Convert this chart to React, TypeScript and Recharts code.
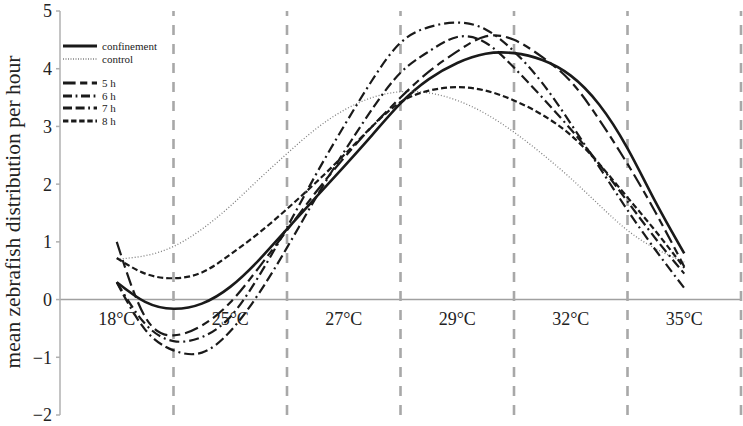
import { LineChart, Line, XAxis, YAxis, ReferenceLine, ReferenceDot } from "recharts";

// category positions (0..6 = six temperature bins), curves sampled every quarter bin
const xs = [0.5, 0.75, 1, 1.25, 1.5, 1.75, 2, 2.25, 2.5, 2.75, 3, 3.25, 3.5, 3.75, 4, 4.25, 4.5, 4.75, 5, 5.25, 5.5];

const confinement = [0.3, -0.04, -0.16, -0.07, 0.22, 0.68, 1.22, 1.76, 2.3, 2.85, 3.4, 3.82, 4.1, 4.26, 4.27, 4.15, 3.88, 3.38, 2.62, 1.68, 0.8];
const control = [0.7, 0.76, 0.92, 1.22, 1.62, 2.08, 2.53, 2.95, 3.28, 3.5, 3.6, 3.58, 3.45, 3.22, 2.9, 2.52, 2.1, 1.64, 1.2, 0.88, 0.65];
const h5 = [1.0, -0.3, -0.62, -0.45, -0.05, 0.55, 1.2, 1.85, 2.45, 3.0, 3.5, 3.95, 4.3, 4.56, 4.5, 4.2, 3.78, 3.12, 2.35, 1.5, 0.57];
const h6 = [0.3, -0.42, -0.72, -0.65, -0.3, 0.4, 1.25, 2.15, 3.0, 3.8, 4.45, 4.72, 4.8, 4.68, 4.3, 3.75, 3.05, 2.3, 1.55, 0.85, 0.2];
const h7 = [0.3, -0.52, -0.88, -0.92, -0.55, 0.1, 0.9, 1.75, 2.55, 3.3, 3.93, 4.3, 4.55, 4.45, 4.02, 3.5, 2.95, 2.35, 1.7, 1.05, 0.45];
const h8 = [0.72, 0.45, 0.37, 0.47, 0.78, 1.15, 1.57, 2.02, 2.5, 3.0, 3.42, 3.62, 3.68, 3.62, 3.45, 3.2, 2.85, 2.35, 1.77, 1.18, 0.55];

const categories = ["18°C", "25°C", "27°C", "29°C", "32°C", "35°C"];
const yTicks = [-2, -1, 0, 1, 2, 3, 4, 5];
const boundaries = [1, 2, 3, 4, 5, 6];

const data = xs.map((x, i) => ({
  x,
  confinement: confinement[i],
  control: control[i],
  h5: h5[i],
  h6: h6[i],
  h7: h7[i],
  h8: h8[i],
}));

const serif = "'Liberation Serif', 'DejaVu Serif', serif";
const ink = "#1a1a1a";

const series = [
  { key: "confinement", name: "confinement", color: ink, width: 2.6, dash: undefined as string | undefined },
  { key: "control", name: "control", color: "#808080", width: 1.3, dash: "1 2" },
  { key: "h5", name: "5 h", color: ink, width: 2.2, dash: "14 5 8 5" },
  { key: "h6", name: "6 h", color: ink, width: 2.2, dash: "10 4 2 4" },
  { key: "h7", name: "7 h", color: ink, width: 2.2, dash: "10 4 10 4 2 4" },
  { key: "h8", name: "8 h", color: ink, width: 2.2, dash: "6 3" },
];

const legendTops = [41, 53.5, 78, 90.5, 103, 115.5];

function YLabel() {
  return (
    <text
      x={20}
      y={212}
      transform="rotate(-90 20 212)"
      textAnchor="middle"
      fontFamily={serif}
      fontSize={21.5}
      fill="#222"
    >
      mean zebrafish distribution per hour
    </text>
  );
}

export default function App() {
  return (
    <div style={{ position: "absolute", left: 0, top: 0, width: 743, height: 426, background: "#fff" }}>
      <LineChart width={743} height={426} data={data} margin={{ top: 11, right: 2, bottom: 11, left: 0 }}>
        <XAxis type="number" dataKey="x" domain={[0, 6]} hide />
        <YAxis
          type="number"
          domain={[-2, 5]}
          ticks={yTicks}
          width={60}
          tickSize={4}
          tickMargin={4}
          stroke="#b0b0b0"
          strokeWidth={1.5}
          tick={{ fontFamily: serif, fontSize: 18, fill: "#222" }}
          tickFormatter={(v: number) => (v < 0 ? "\u2212" + Math.abs(v) : String(v))}
          label={<YLabel />}
        />
        <ReferenceLine y={0} stroke="#a0a0a0" strokeWidth={1.5} />
        {boundaries.map((b) => (
          <ReferenceLine key={b} x={b} stroke="#a8a8a8" strokeWidth={2.6} strokeDasharray="10 9" />
        ))}
        {categories.map((c, i) => (
          <ReferenceDot
            key={c}
            x={i + 0.5}
            y={0}
            r={1}
            fill="none"
            stroke="none"
            ifOverflow="visible"
            label={{ value: c, position: "bottom", offset: 12, fill: "#222", fontSize: 18, fontFamily: serif }}
          />
        ))}
        {series.map((s) => (
          <Line
            key={s.key}
            dataKey={s.key}
            name={s.name}
            type="natural"
            stroke={s.color}
            strokeWidth={s.width}
            strokeDasharray={s.dash}
            dot={false}
            isAnimationActive={false}
          />
        ))}
      </LineChart>
      {series.map((s, i) => (
        <div
          key={s.key}
          style={{
            position: "absolute",
            left: 63,
            top: legendTops[i],
            height: 10,
            display: "flex",
            alignItems: "center",
            fontFamily: serif,
            fontSize: 11,
            color: "#222",
            lineHeight: "10px",
          }}
        >
          <svg width={34} height={8} style={{ marginRight: 5 }}>
            <line
              x1={0}
              y1={4}
              x2={34}
              y2={4}
              stroke={s.color}
              strokeWidth={i === 1 ? 1.3 : 3}
              strokeDasharray={s.dash ? (i === 1 ? "1 1.5" : s.dash.split(" ").map((d) => String(Number(d) * 0.9)).join(" ")) : undefined}
            />
          </svg>
          {s.name}
        </div>
      ))}
    </div>
  );
}
